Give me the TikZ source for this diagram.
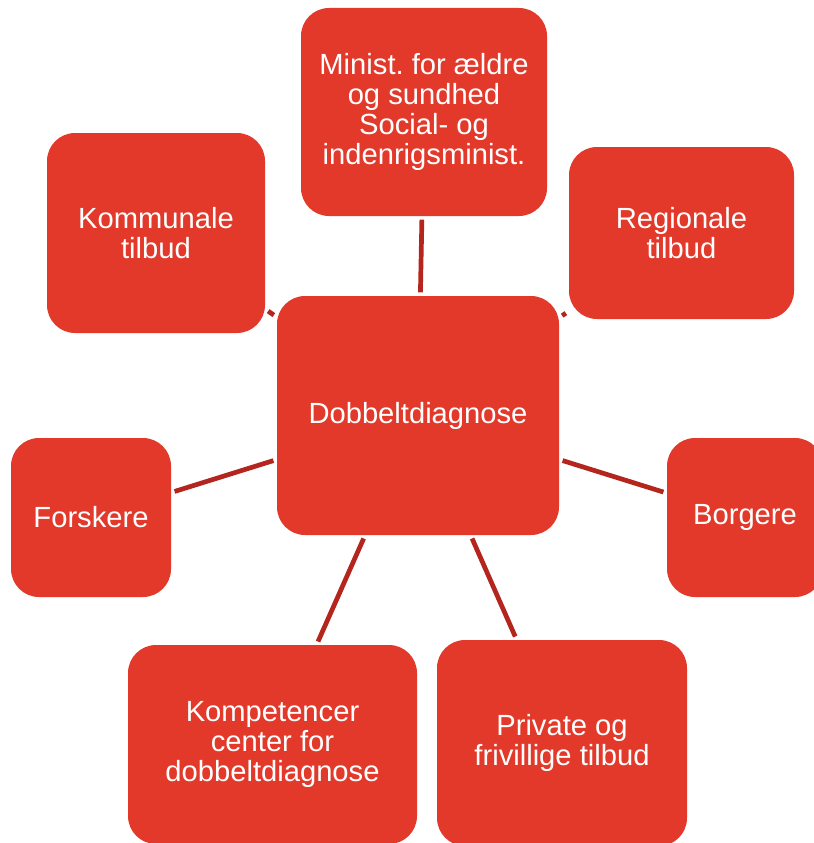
\documentclass[tikz,border=0pt]{standalone}
\usepackage{fontspec}
\setmainfont{Liberation Sans}
\frenchspacing
\usetikzlibrary{positioning}
\definecolor{boxred}{RGB}{226,57,42}
\definecolor{linkred}{RGB}{180,37,30}
\tikzset{
  topic/.style={rectangle,rounded corners=0.28cm,fill=boxred,text=white,align=center,inner sep=0pt,font=\fontsize{8.3}{8.6}\selectfont},
  link/.style={line width=0.047cm,draw=linkred,shorten <=0.03cm,shorten >=0.03cm}
}
\begin{document}
\begin{tikzpicture}
  \useasboundingbox (0,0) rectangle (8.13,-8.43);
  \node[topic,minimum width=2.82cm,minimum height=2.39cm] (hub) at (4.18,-4.155) {Dobbeltdiagnose};
  \node[topic,minimum width=2.46cm,minimum height=2.08cm] (minist) at (4.24,-1.12) {Minist. for ældre\\og sundhed\\Social- og\\indenrigsminist.};
  \node[topic,minimum width=2.18cm,minimum height=2.00cm] (kommune) at (1.56,-2.33) {Kommunale\\tilbud};
  \node[topic,minimum width=2.25cm,minimum height=1.72cm] (region) at (6.815,-2.33) {Regionale\\tilbud};
  \node[topic,minimum width=1.60cm,minimum height=1.59cm] (forsk) at (0.91,-5.175) {Forskere};
  \node[topic,minimum width=1.56cm,minimum height=1.59cm] (borger) at (7.45,-5.175) {Borgere};
  \node[topic,minimum width=2.89cm,minimum height=1.99cm] (kompet) at (2.725,-7.445) {Kompetencer\\center for\\dobbeltdiagnose};
  \node[topic,minimum width=2.50cm,minimum height=2.06cm] (privat) at (5.62,-7.43) {Private og\\frivillige tilbud};
  \foreach \s in {minist,kommune,region,forsk,borger,kompet,privat}
    \draw[link] (hub) -- (\s);
\end{tikzpicture}
\end{document}
